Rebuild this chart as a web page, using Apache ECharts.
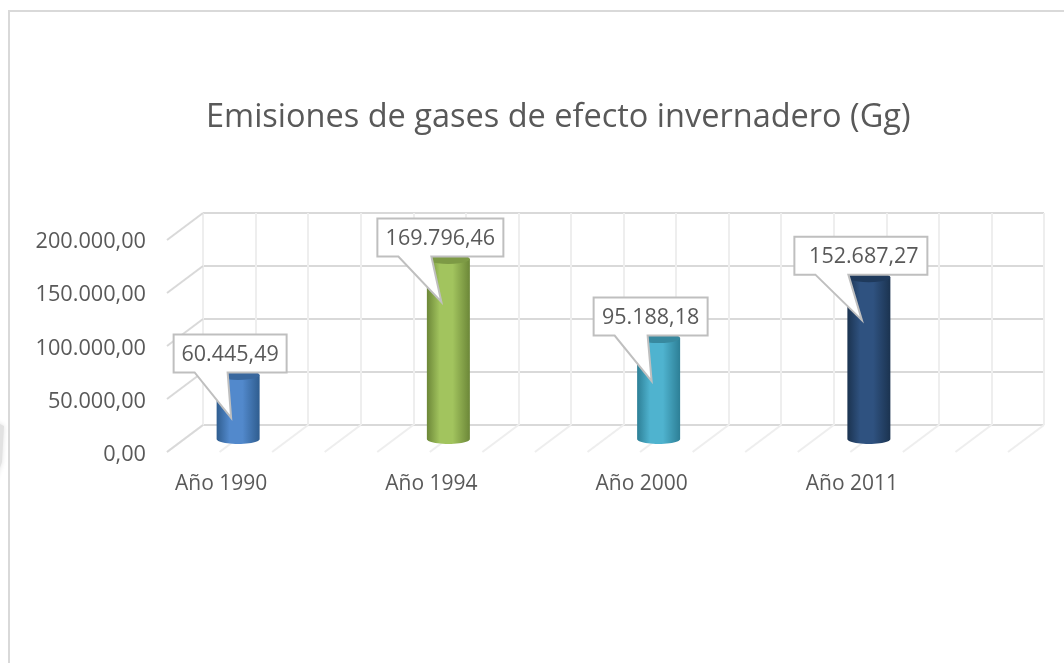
<!DOCTYPE html>
<html>
<head>
<meta charset="utf-8">
<style>
html, body { margin: 0; padding: 0; background: #fff; }
#chart { width: 1064px; height: 663px; }
</style>
<script src="https://cdn.jsdelivr.net/npm/echarts@6/dist/echarts.min.js"></script>
</head>
<body>
<div id="chart"></div>
<script>
var categories = ['Año 1990', 'Año 1994', 'Año 2000', 'Año 2011'];
var values = [60445.49, 169796.46, 95188.18, 152687.27];
var valueTicks = [0, 50000, 100000, 150000, 200000];
var wallTicks = [0, 1, 2, 3, 4, 5, 6, 7, 8, 9, 10, 11, 12, 13, 14, 15, 16];

// edge, centre, top of each cylinder
var barEdge = ['#2f5d8f', '#6c8738', '#2d7f96', '#1b3350'];
var barMid = ['#5289cc', '#a2c45e', '#4fb3cf', '#2f5280'];
var barTop = ['#3a689e', '#7d9a45', '#38899f', '#1f3a5c'];
var boxWidth = [113, 126, 114, 133];

var FONT = '"Open Sans", "Noto Sans", sans-serif';
var TEXT = '#595959';
var DEPTH_X = 36, DEPTH_Y = 27; // wall to front edge of the 3d floor

function fmt(v) {
	var s = v.toFixed(2).split('.');
	return s[0].replace(/\B(?=(\d{3})+$)/g, '.') + ',' + s[1];
}

function arc(cx, cy, rx, ry, from, to) {
	var pts = [];
	for (var i = 0; i <= 24; i++) {
		var a = from + (to - from) * i / 24;
		pts.push([cx + rx * Math.cos(a), cy + ry * Math.sin(a)]);
	}
	return pts;
}

function renderDiagonal(params, api) {
	var p = api.value(1) === 1 ? api.coord([0, api.value(0)]) : api.coord([api.value(0), 0]);
	return {
		type: 'line',
		shape: { x1: p[0], y1: p[1], x2: p[0] - DEPTH_X, y2: p[1] + DEPTH_Y },
		style: { stroke: api.value(1) === 1 ? '#d9d9d9' : '#eeeeee', lineWidth: 2 }
	};
}

function renderCylinder(params, api) {
	var i = params.dataIndex;
	var top = api.coord([i, api.value(1)]);
	var base = api.coord([i, 0]);
	var rx = 21.5, ry = 5;
	var body = [[top[0] - rx, top[1]]]
		.concat(arc(base[0], base[1], rx, ry, Math.PI, 0))
		.concat([[top[0] + rx, top[1]]]);
	return {
		type: 'group',
		children: [{
			type: 'polygon',
			shape: { points: body },
			style: {
				fill: new echarts.graphic.LinearGradient(0, 0, 1, 0, [
					{ offset: 0, color: barEdge[i] },
					{ offset: 0.3, color: barMid[i] },
					{ offset: 0.6, color: barMid[i] },
					{ offset: 1, color: barEdge[i] }
				])
			}
		}, {
			type: 'polygon',
			shape: { points: arc(top[0], top[1], rx, ry, 0, Math.PI * 2) },
			style: { fill: barTop[i] }
		}]
	};
}

function renderCallout(params, api) {
	var i = params.dataIndex;
	var top = api.coord([i, api.value(1)]);
	var w = boxWidth[i], h = 38;
	var cx = top[0] - 8, b = top[1] - 2.5, l = cx - w / 2;
	var outline = [
		[l, b - h], [l + w, b - h], [l + w, b],
		[l + 54, b], [top[0] - 7, top[1] + 43], [l + 21, b], [l, b]
	];
	return {
		type: 'group',
		children: [{
			type: 'polygon',
			shape: { points: outline },
			style: { fill: '#fff', stroke: '#bfbfbf', lineWidth: 2 }
		}, {
			type: 'text',
			style: {
				text: fmt(api.value(1)),
				x: cx + (i === 3 ? 3 : 0),
				y: b - h / 2 + 1,
				align: 'center',
				verticalAlign: 'middle',
				fill: TEXT,
				font: '21.5px ' + FONT
			}
		}]
	};
}

var dom = document.getElementById('chart');
var chart = echarts.init(dom, null, { renderer: 'canvas' });

var hidden = { show: false };
var option = {
	animation: false,
	backgroundColor: '#fff',
	title: {
		text: 'Emisiones de gases de efecto invernadero (Gg)',
		left: 201,
		top: 96,
		textStyle: { fontFamily: FONT, fontSize: 32.5, fontWeight: 'normal', color: TEXT }
	},
	graphic: [{
		type: 'rect',
		silent: true,
		shape: { x: 9, y: 11, width: 1200, height: 800 },
		style: { fill: 'none', stroke: '#d9d9d9', lineWidth: 2 }
	}, {
		type: 'polygon',
		silent: true,
		shape: { points: [[-8, 420], [4, 426], [2, 462], [-8, 490]] },
		style: { fill: '#e2e2e2', shadowBlur: 5, shadowColor: '#e2e2e2' }
	}],
	grid: [
		{ left: 203, width: 841, top: 213, height: 212 },	// back wall
		{ left: 167, width: 841, top: 242, height: 213 },	// front edge, value labels
		{ left: 116, width: 841, top: 240, height: 213 },	// category labels
		{ left: 133, width: 841, top: 227, height: 212 }	// cylinders, half way in
	],
	xAxis: [{
		gridIndex: 0, type: 'value', min: 0, max: 16, interval: 1,
		axisLine: hidden, axisTick: hidden, axisLabel: hidden,
		splitLine: { show: true, lineStyle: { color: '#eeeeee', width: 2 } }
	}, {
		gridIndex: 1, type: 'value', min: 0, max: 16,
		axisLine: hidden, axisTick: hidden, axisLabel: hidden, splitLine: hidden
	}, {
		gridIndex: 2, type: 'category', data: categories,
		axisLine: hidden, axisTick: hidden, splitLine: hidden,
		axisLabel: { margin: 21, fontFamily: FONT, fontSize: 21, color: TEXT }
	}, {
		gridIndex: 3, type: 'category', data: categories,
		axisLine: hidden, axisTick: hidden, axisLabel: hidden, splitLine: hidden
	}],
	yAxis: [{
		gridIndex: 0, type: 'value', min: 0, max: 200000, interval: 50000,
		axisLine: hidden, axisTick: hidden, axisLabel: hidden,
		splitLine: { show: true, lineStyle: { color: '#d9d9d9', width: 2 } }
	}, {
		gridIndex: 1, type: 'value', min: 0, max: 200000, interval: 50000,
		axisLine: hidden, axisTick: hidden, splitLine: hidden,
		axisLabel: { margin: 21, fontFamily: FONT, fontSize: 21.7, color: TEXT, formatter: fmt }
	}, {
		gridIndex: 2, type: 'value', min: 0, max: 200000,
		axisLine: hidden, axisTick: hidden, axisLabel: hidden, splitLine: hidden
	}, {
		gridIndex: 3, type: 'value', min: 0, max: 200000,
		axisLine: hidden, axisTick: hidden, axisLabel: hidden, splitLine: hidden
	}],
	series: [{
		type: 'custom', xAxisIndex: 0, yAxisIndex: 0, silent: true, z: 1,
		renderItem: renderDiagonal,
		encode: { x: -1, y: -1 },
		data: wallTicks.map(function (t) { return [t, 0]; })
	}, {
		type: 'custom', xAxisIndex: 0, yAxisIndex: 0, silent: true, z: 1,
		renderItem: renderDiagonal,
		encode: { x: -1, y: -1 },
		data: valueTicks.map(function (t) { return [t, 1]; })
	}, {
		type: 'custom', xAxisIndex: 3, yAxisIndex: 3, z: 3,
		renderItem: renderCylinder,
		encode: { x: 0, y: 1 },
		data: values.map(function (v, i) { return [i, v]; })
	}, {
		type: 'custom', xAxisIndex: 3, yAxisIndex: 3, z: 4,
		renderItem: renderCallout,
		encode: { x: 0, y: 1 },
		data: values.map(function (v, i) { return [i, v]; })
	}]
};
chart.setOption(option, true);
window.addEventListener('resize', function (e) {
	chart.resize();
});
</script>
</body>
</html>
